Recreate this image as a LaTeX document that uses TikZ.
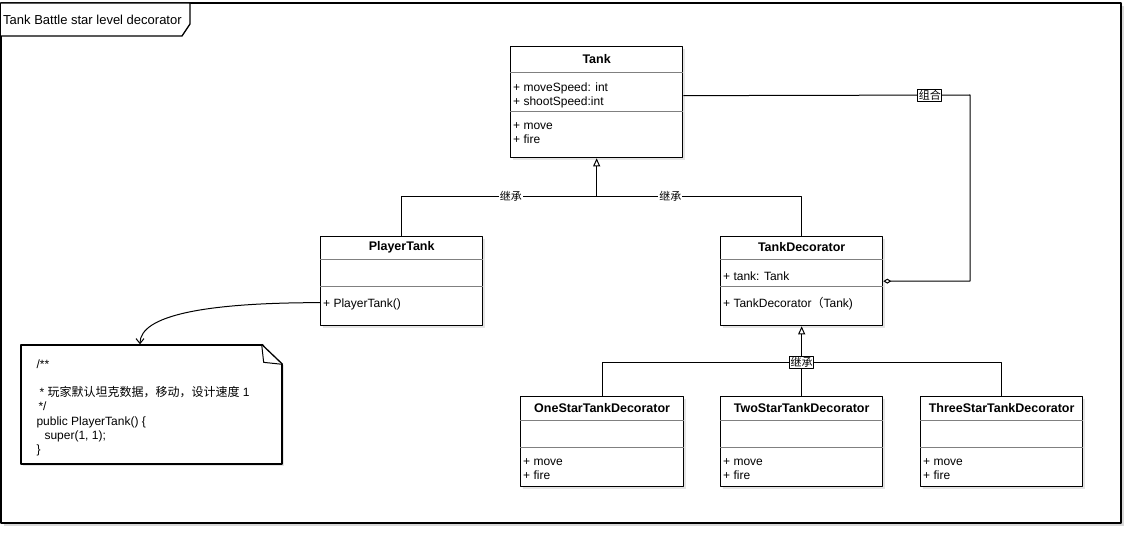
\documentclass[tikz,border=0pt]{standalone}
\usepackage{fontspec}
\setmainfont{Liberation Sans}
\newfontfamily\cjk{Noto Sans CJK SC}
\usetikzlibrary{arrows.meta,positioning,shadows}

\tikzset{
  frame/.style={draw, line width=1.3pt, fill=white, drop shadow={shadow xshift=3pt, shadow yshift=-3pt, fill=black!30}},
  umlbox/.style={draw, line width=1.3pt, fill=white, inner sep=0pt, drop shadow={shadow xshift=2pt, shadow yshift=-2pt, fill=black!20}},
  umlsep/.style={draw=black!50, line width=0.7pt},
  umltitle/.style={font=\fontsize{12.5}{14}\selectfont\bfseries},
  umltext/.style={anchor=north west, align=left, inner xsep=3pt, inner ysep=0pt, font=\fontsize{12}{14}\selectfont, execute at begin node=\strut},
  notetext/.style={anchor=north west, align=left, inner sep=0pt, font=\fontsize{12}{14.2}\selectfont, execute at begin node=\strut},
  assoc/.style={line width=1pt},
  inherit/.style={assoc, -{Triangle[open, length=8pt, width=7pt]}},
  aggregate/.style={assoc, {Diamond[open, length=8pt, width=5pt]}-},
  dependency/.style={assoc, -{Straight Barb[length=5pt, width=8pt]}},
  linklabel/.style={fill=white, inner sep=1pt, font=\cjk\fontsize{11}{12}\selectfont},
}

% #1 name, #2 top left, #3 width, #4 first separator, #5 second separator, #6 height, #7 attributes, #8 methods
\newcommand{\umlclass}[8]{%
  \node[umlbox, anchor=north west, minimum width=#3pt, minimum height=#6pt] (#1) at (#2) {};
  \node[umltitle] at ([yshift=-#4/2]#1.north) {#1};
  \draw[umlsep] ([yshift=-#4]#1.north west) -- ([yshift=-#4]#1.north east);
  \draw[umlsep] ([yshift=-#5]#1.north west) -- ([yshift=-#5]#1.north east);
  \node[umltext] at ([yshift=-#4-11]#1.north west) {#7};
  \node[umltext] at ([yshift=-#5-11]#1.north west) {#8};
}

\begin{document}
\begin{tikzpicture}[x=1pt, y=-1pt, line join=round]
  \useasboundingbox (0,0) rectangle (1134,540);

  % frame with its title tab
  \draw[frame] (1,3) rectangle (1121,523);
  \draw[line width=1.3pt, fill=white] (1,3) -- (190,3) -- (190,24) -- (182,36) -- (1,36);
  \node[anchor=west, inner sep=0pt, font=\fontsize{13}{15}\selectfont] (caption) at (3,20) {Tank Battle star level decorator};

  % classes
  \umlclass{Tank}{510,46}{172}{26}{65}{111}{+ moveSpeed: int\\+ shootSpeed:int}{+ move\\+ fire}
  \umlclass{PlayerTank}{320,236}{162}{23}{50}{89}{}{+ PlayerTank()}
  \umlclass{TankDecorator}{720,236}{162}{23}{50}{89}{+ tank: Tank}{+ TankDecorator{\cjk （}Tank)}
  \umlclass{OneStarTankDecorator}{520,396}{163}{24}{51}{90}{}{+ move\\+ fire}
  \umlclass{TwoStarTankDecorator}{720,396}{162}{24}{51}{90}{}{+ move\\+ fire}
  \umlclass{ThreeStarTankDecorator}{920,396}{162}{24}{51}{90}{}{+ move\\+ fire}

  % note
  \node[umlbox, minimum width=261pt, minimum height=119pt] (note) at (151.5,404.5) {};
  \fill[white] ([xshift=-21pt, yshift=1.5pt]note.north east) -- ([xshift=4pt, yshift=1.5pt]note.north east)
    -- ([xshift=4pt, yshift=-22pt]note.north east) -- ([yshift=-20pt]note.north east) -- cycle;
  \draw[line width=1.3pt] ([xshift=-21pt]note.north east) -- ([yshift=-20pt]note.north east);
  \draw[line width=1pt] ([xshift=-21pt]note.north east) -- ([xshift=-19pt, yshift=-18pt]note.north east)
    -- ([yshift=-20pt]note.north east);
  \node[notetext] (notebody) at ([xshift=16pt, yshift=-15pt]note.north west) {/**\\[14.2pt]
    \hspace{3pt}* {\cjk 玩家默认坦克数据，移动，设计速度} 1\\
    \hspace{2pt}*/\\
    public PlayerTank() \{\\
    \hspace{8pt}super(1, 1);\\
    \}};

  % inheritance from Tank
  \coordinate (tankjoin) at ([yshift=-38pt]Tank.south);
  \draw[assoc] (PlayerTank.north) |- node[linklabel, pos=0.78] {继承} (tankjoin);
  \draw[assoc] (TankDecorator.north) |- node[linklabel, pos=0.82] {继承} (tankjoin);
  \draw[inherit] (tankjoin) -- (Tank.south);

  % inheritance from TankDecorator
  \coordinate (decjoin) at ([yshift=-36pt]TankDecorator.south);
  \draw[assoc] (OneStarTankDecorator.north) |- (decjoin) -| (ThreeStarTankDecorator.north);
  \draw[assoc] (TwoStarTankDecorator.north) -- (decjoin);
  \draw[inherit] (decjoin) -- (TankDecorator.south);
  \node[linklabel, draw, line width=0.8pt] (declabel) at (decjoin) {继承};

  % aggregation
  \coordinate (aggcorner) at (970,95);
  \draw[aggregate] (TankDecorator.east) -| (aggcorner)
    -- node[linklabel, draw, line width=0.8pt, pos=0.14] {组合} ([yshift=6.5pt]Tank.east);

  % note link
  \draw[dependency] ([yshift=-21.5pt]PlayerTank.west) to[out=180, in=90, out looseness=1.6, in looseness=0.4] ([xshift=-11.5pt]note.north);
\end{tikzpicture}
\end{document}
